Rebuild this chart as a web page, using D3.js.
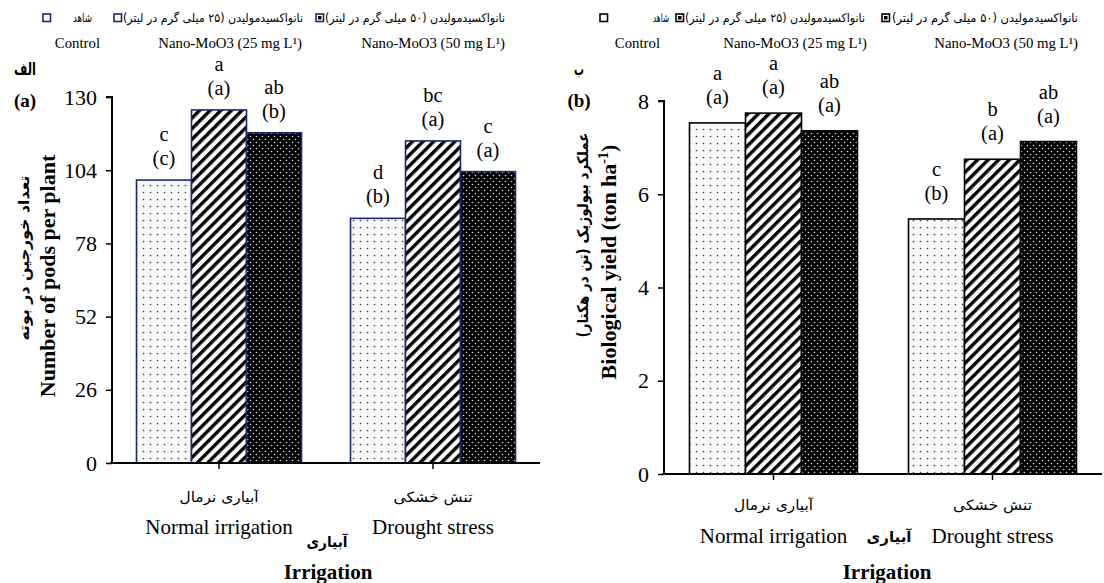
<!DOCTYPE html>
<html><head><meta charset="utf-8">
<script src="https://cdn.jsdelivr.net/npm/d3@7"></script>
<style>
body{margin:0;background:#fff;}
text{font-family:"Liberation Serif","Times New Roman",serif;fill:#000;}
.fa{font-family:"DejaVu Sans",sans-serif;direction:rtl;unicode-bidi:embed;}
</style></head>
<body><svg id="c" width="1104" height="583"></svg>
<script>
const categories = ["Normal irrigation", "Drought stress"];
const categoriesFa = ["آبیاری نرمال", "تنش خشکی"];
const series = ["Control", "Nano-MoO3 (25 mg L¹)", "Nano-MoO3 (50 mg L¹)"];
const seriesFa = ["شاهد", "نانواکسیدمولیدن (۲۵ میلی گرم در لیتر)", "نانواکسیدمولیدن (۵۰ میلی گرم در لیتر)"];
// Number of pods per plant
const podsControl = [100.5, 86.9];
const podsNano25 = [125.4, 114.4];
const podsNano50 = [117.3, 103.5];
// letters: normal (Control, 25, 50), drought (Control, 25, 50)
const podsLetters = [["c","(c)"],["a","(a)"],["ab","(b)"],["d","(b)"],["bc","(a)"],["c","(a)"]];
const podsTicks = [0, 26, 52, 78, 104, 130];
// Biological yield (ton/ha)
const yieldControl = [7.53, 5.47];
const yieldNano25 = [7.74, 6.75];
const yieldNano50 = [7.36, 7.13];
const yieldLetters = [["a","(a)"],["a","(a)"],["ab","(a)"],["c","(b)"],["b","(a)"],["ab","(a)"]];
const yieldTicks = [0, 2, 4, 6, 8];

const svg = d3.select("#c");
const defs = svg.append("defs");
function dotPat(id){
  const p = defs.append("pattern").attr("id",id).attr("patternUnits","userSpaceOnUse").attr("width",7).attr("height",7);
  p.append("rect").attr("width",7).attr("height",7).attr("fill","#f8f8f8");
  p.append("circle").attr("cx",3.5).attr("cy",3.5).attr("r",0.85).attr("fill","#444");
}
function stripePat(id){
  const p = defs.append("pattern").attr("id",id).attr("patternUnits","userSpaceOnUse").attr("width",7.5).attr("height",10).attr("patternTransform","rotate(45)");
  p.append("rect").attr("width",7.5).attr("height",10).attr("fill","#fff");
  p.append("rect").attr("width",3.4).attr("height",10).attr("fill","#000");
}
function darkPat(id){
  const p = defs.append("pattern").attr("id",id).attr("patternUnits","userSpaceOnUse").attr("width",6).attr("height",6);
  p.append("rect").attr("width",6).attr("height",6).attr("fill","#000");
  p.append("circle").attr("cx",1.5).attr("cy",1.5).attr("r",0.8).attr("fill","#ddd");
  p.append("circle").attr("cx",4.5).attr("cy",4.5).attr("r",0.8).attr("fill","#ddd");
}
dotPat("pDot"); stripePat("pStr"); darkPat("pDark");
const fills = ["url(#pDot)","url(#pStr)","url(#pDark)"];

// Persian text helper: anchor "mid" or "right" (right edge at x)
function fa(g, x, y, txt, len, size, anchor, bold, rot){
  const t = g.append("text").attr("class","fa")
    .attr("text-anchor", anchor === "mid" ? "middle" : "start")
    .style("font-size", size + "px")
    .style("font-weight", bold ? "bold" : "normal")
    .attr("textLength", len).attr("lengthAdjust","spacingAndGlyphs")
    .text(txt);
  if (rot) t.attr("transform", `translate(${x},${y}) rotate(-90)`);
  else t.attr("x", x).attr("y", y);
  return t;
}

function panel(cfg){
  const g = svg.append("g");
  const x0 = d3.scaleBand().domain(categories).range(cfg.xr).padding(0);
  const bw = x0.bandwidth();
  const x1 = d3.scaleBand().domain(series).range([(bw-cfg.gw)/2,(bw+cfg.gw)/2]).padding(0);
  const y = d3.scaleLinear().domain(cfg.ydom).range(cfg.yr);
  const rows = [];
  categories.forEach((c,ci)=>{
    cfg.vals.forEach((arr,si)=>{
      rows.push({c, s:series[si], si, v:arr[ci], lab:cfg.letters[ci*3+si]});
    });
  });
  g.selectAll("rect.bar").data(rows).join("rect").attr("class","bar")
    .attr("x",d=>x0(d.c)+x1(d.s)).attr("width",x1.bandwidth())
    .attr("y",d=>y(d.v)).attr("height",d=>y(0)-y(d.v))
    .attr("fill",d=>fills[d.si]).attr("stroke",cfg.stroke).attr("stroke-width",1.6);
  const cx = d=>x0(d.c)+x1(d.s)+x1.bandwidth()/2;
  const lt = g.selectAll("text.lt").data(rows).join("text").attr("class","lt")
    .attr("text-anchor","middle").style("font-size","20.5px");
  lt.append("tspan").attr("x",cx).attr("y",d=>y(d.v)-cfg.l1).text(d=>d.lab[0]);
  lt.append("tspan").attr("x",cx).attr("y",d=>y(d.v)-cfg.l2).text(d=>d.lab[1]);
  // y axis
  const ya = g.append("g").attr("transform",`translate(${cfg.xr[0]},0)`)
    .call(d3.axisLeft(y).tickValues(cfg.ticks).tickSize(6).tickPadding(9).tickFormat(d3.format("d")));
  ya.select(".domain").attr("stroke","#000").attr("stroke-width",2).attr("d",`M-6,${cfg.yr[1]}H0V${cfg.yr[0]}`);
  ya.selectAll(".tick line").attr("stroke","#000").attr("stroke-width",1.5);
  ya.selectAll(".tick text").style("font-size","22px").style("font-family","Liberation Serif");
  // x axis
  const xa = g.append("g").attr("transform",`translate(0,${cfg.yr[0]})`)
    .call(d3.axisBottom(x0).tickSize(6).tickFormat(""));
  xa.select(".domain").attr("stroke","#000").attr("stroke-width",2).attr("d",`M${cfg.xr[0]-2},0H${cfg.xaxEnd}`);
  xa.selectAll(".tick line").attr("stroke","#000").attr("stroke-width",1.5);
  // category labels
  categories.forEach((c,i)=>{
    fa(g, x0(c)+bw/2, cfg.catFaY, categoriesFa[i], 79, 14, "mid", false);
    g.append("text").attr("x",x0(c)+bw/2).attr("y",cfg.catEnY).attr("text-anchor","middle").style("font-size","21px").text(c);
  });
  fa(g, cfg.irrFaX, cfg.irrFaY, "آبیاری", cfg.irrFaLen, 15, "mid", true);
  g.append("text").attr("x",cfg.irrX).attr("y",579).attr("text-anchor","middle").style("font-size","21px").style("font-weight","bold").text("Irrigation");
  // panel labels
  fa(g, cfg.pl, 75, cfg.faLetter, cfg.faLetterLen, 17, "mid", true);
  g.append("text").attr("x",cfg.pl).attr("y",107).attr("text-anchor","middle").style("font-size","19px").style("font-weight","bold").text(cfg.enLetter);
  // y titles
  fa(g, cfg.ytFaX, cfg.ytFaC, cfg.yFa, cfg.ytFaLen, 15, "mid", true, true);
  const ye = g.append("text").attr("transform",`translate(${cfg.ytEnX},${cfg.ytEnC}) rotate(-90)`).attr("text-anchor","middle").style("font-size",cfg.ytEnSize+"px").style("font-weight","bold");
  cfg.yEn(ye);
  // legend
  const L = cfg.leg;
  L.sq.forEach((sx,i)=>{
    g.append("rect").attr("x",sx).attr("y",14).attr("width",7.5).attr("height",7.5).attr("fill","#fff").attr("stroke",cfg.legStroke).attr("stroke-width",1.6);
    g.append("rect").attr("x",sx+2).attr("y",16).attr("width",3.5).attr("height",3.5).attr("fill",cfg.legInner[i]);
  });
  seriesFa.forEach((t,i)=>{
    fa(g, L.faX[i], 22, t, L.faLen[i], 12, "right", false);
  });
  series.forEach((t,i)=>{
    g.append("text").attr("x",L.enX[i]).attr("y",48).attr("text-anchor","end").style("font-size","14.8px").text(t);
  });
}

panel({
  xr:[112,540], xaxEnd:540, gw:165, ydom:[0,130], yr:[463,97], ticks:podsTicks,
  vals:[podsControl,podsNano25,podsNano50], letters:podsLetters, l1:39, l2:15,
  stroke:"#1c2a6b",
  catFaY:502, catEnY:534, irrFaX:327, irrFaY:547, irrFaLen:41, irrX:328,
  pl:25, faLetter:"الف", faLetterLen:22, enLetter:"(a)",
  ytFaX:29, ytFaC:258, ytFaLen:165, ytEnX:55, ytEnC:276, ytEnSize:22,
  yFa:"تعداد خورجین در بوته",
  yEn:t=>t.text("Number of pods per plant"),
  leg:{sq:[43,114,316], faX:[92,303,505], faLen:[19,180,180], enX:[100,302,505]},
  legStroke:"#1c2a6b", legInner:["#fff","#fff","#000"]
});
panel({
  xr:[664,1102], xaxEnd:1102, gw:168, ydom:[0,8], yr:[474,101], ticks:yieldTicks,
  vals:[yieldControl,yieldNano25,yieldNano50], letters:yieldLetters, l1:43, l2:19,
  stroke:"#000",
  catFaY:510, catEnY:543, irrFaX:889, irrFaY:542, irrFaLen:45, irrX:887,
  pl:579, faLetter:"ب", faLetterLen:10, enLetter:"(b)",
  ytFaX:588, ytFaC:235, ytFaLen:205, ytEnX:616, ytEnC:262, ytEnSize:22,
  yFa:"عملکرد بیولوژیک (تن در هکتار)",
  yEn:t=>{t.append("tspan").text("Biological yield (ton ha");t.append("tspan").attr("dy",-8).style("font-size","14px").text("-1");t.append("tspan").attr("dy",8).text(")");},
  leg:{sq:[600,676,882], faX:[669,865,1078], faLen:[16,180,186], enX:[660,867,1078]},
  legStroke:"#000", legInner:["#fff","#000","#000"]
});
</script></body></html>
